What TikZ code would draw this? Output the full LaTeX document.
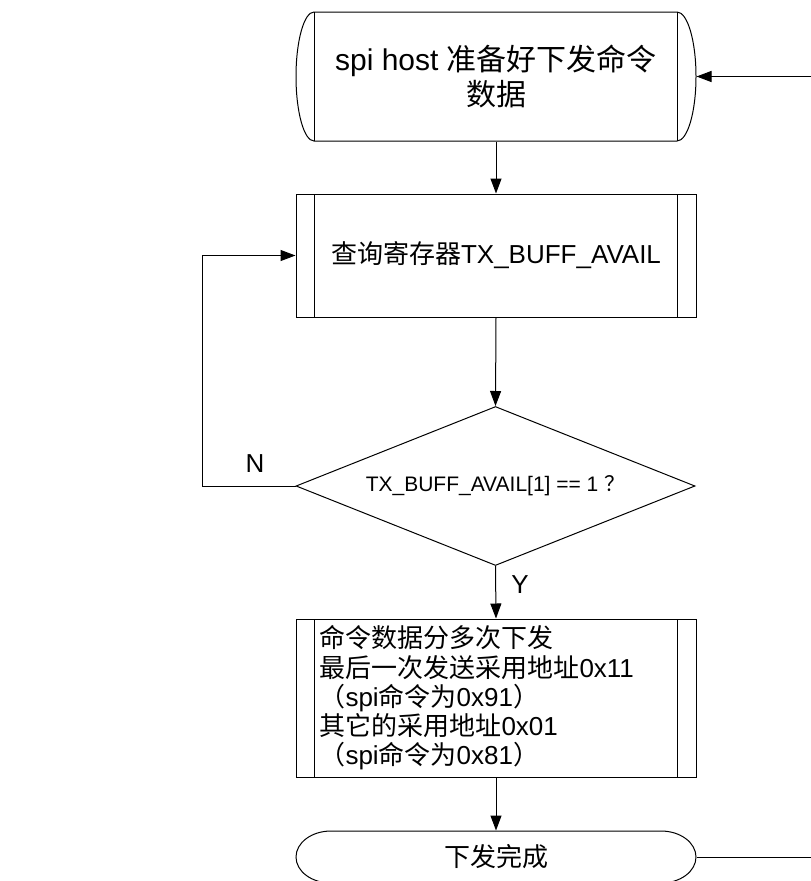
\documentclass[tikz,border=0pt]{standalone}
\usepackage{fontspec}
\setmainfont{Liberation Sans}
\newfontfamily\cjk{Noto Sans CJK SC}
\usetikzlibrary{arrows.meta,shapes.geometric}
\begin{document}
\begin{tikzpicture}[x=1pt,y=-1pt,line width=1pt,
  >={Triangle[length=15pt,width=11pt]},
  frame/.style={inner sep=0pt,minimum width=400pt},
  fbig/.style={font=\fontsize{30}{35}\selectfont},
  fmid/.style={font=\fontsize{26}{29.2}\selectfont},
  fsmall/.style={font=\fontsize{21}{24}\selectfont},
  lbl/.style={inner sep=0pt,fmid}]
\useasboundingbox (0,0) rectangle (811,881);
\clip (0,0) rectangle (811,881);
\fill[white] (0,0) rectangle (811,881);

% start box (rounded ends, inner bars)
\node[frame,minimum height=129pt,align=center,fbig] (start) at (496,76.5)
  {spi host {\cjk 准备好下发命令}\\{\cjk 数据}};
\draw (314,12) -- (677,12) arc[start angle=90,end angle=-90,x radius=19pt,y radius=64.5pt]
  -- (314,141) arc[start angle=270,end angle=90,x radius=18pt,y radius=64.5pt] -- cycle;
\draw (314,12) -- (314,141) (677,12) -- (677,141);

% query box
\node[frame,draw,minimum height=123pt,fmid] (chk) at (496,255.5)
  {{\cjk 查询寄存器}TX\_BUFF\_AVAIL};
\draw (314,194) -- (314,317) (677,194) -- (677,317);

% decision
\node[diamond,draw,inner sep=0pt,aspect=2.5,minimum width=399pt,minimum height=159pt,fsmall] (dec) at (495.5,486)
  {TX\_BUFF\_AVAIL[1] == 1 {\cjk ？}};

% work box
\node[frame,draw,minimum height=158pt] (work) at (496,698) {};
\draw (314,619) -- (314,777) (677,619) -- (677,777);
\node[lbl,anchor=west,align=left] (worktext) at (319,698)
  {{\cjk 命令数据分多次下发}\\
   {\cjk 最后一次发送采用地址}0x11\\
   {\cjk （}spi{\cjk 命令为}0x91{\cjk ）}\\
   {\cjk 其它的采用地址}0x01\\
   {\cjk （}spi{\cjk 命令为}0x81{\cjk ）}};

% end terminal
\node[frame,minimum height=52pt,fmid] (end) at (496,857) {\cjk 下发完成};
\draw (331,831) -- (661,831) arc[start angle=90,end angle=-90,x radius=35pt,y radius=26pt]
  -- (331,883) arc[start angle=270,end angle=90,x radius=35pt,y radius=26pt] -- cycle;

% connectors
\draw[->] (start.south) -- (chk.north);
\draw[->] (chk.south) -- (dec.north);
\draw[->] (dec.west) -- ++(-93,0) |- (chk.west);
\draw[->] (dec.south) -- (work.north);
\draw[->] (work.south) -- (end.north);
\draw[->] (end.east) -- ++(125,0) |- (start.east);

% labels
\node[lbl] (nlab) at (255,464) {N};
\node[lbl] (ylab) at (520,585) {Y};
\end{tikzpicture}
\end{document}
